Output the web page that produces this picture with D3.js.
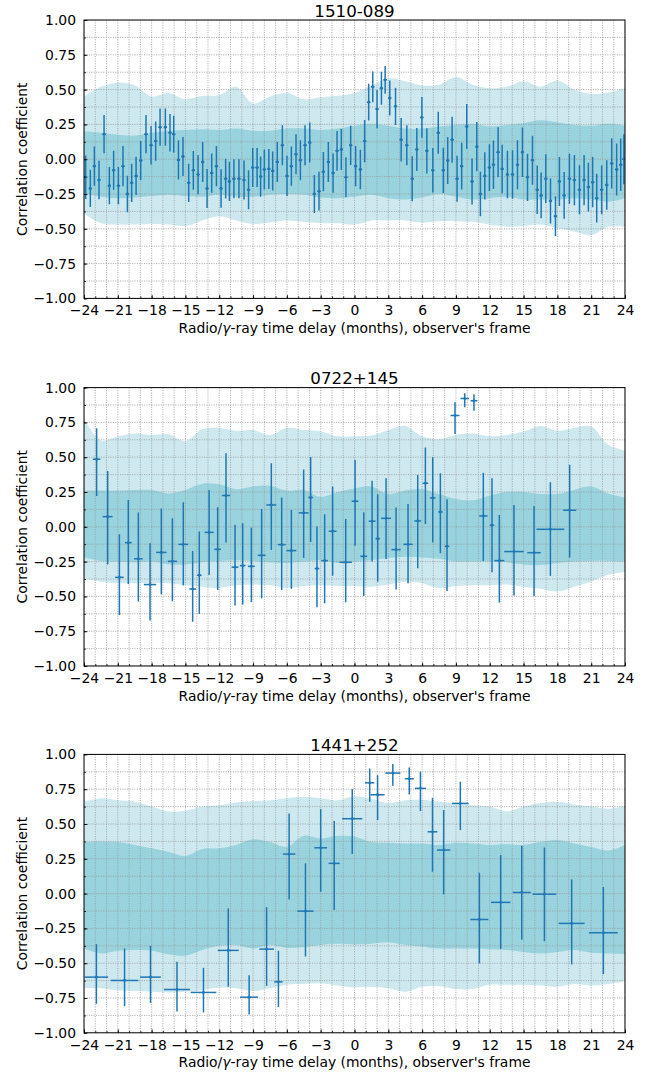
<!DOCTYPE html>
<html>
<head>
<meta charset="utf-8">
<script src="https://cdn.jsdelivr.net/npm/d3@7"></script>
<style>
  html, body { margin: 0; padding: 0; background: #fff; }
  svg { display: block; font-family: "DejaVu Sans", sans-serif; }
</style>
</head>
<body>
<svg id="chart" width="656" height="1075"></svg>
<script>
// ---- Sources (one panel each) ----
const sources = ["1510-089", "0722+145", "1441+252"];

// ---- Axis ticks ----
const xTicks = [-24, -21, -18, -15, -12, -9, -6, -3, 0, 3, 6, 9, 12, 15, 18, 21, 24];
const yTicks = [-1, -0.75, -0.5, -0.25, 0, 0.25, 0.5, 0.75, 1];

// ---- 1510-089: DCF points (lag in months, coefficient, 1-sigma error) ----
const lag1510 = [-23.85,-23.44,-23.08,-22.67,-22.22,-21.75,-21.37,-20.95,-20.54,-20.15,-19.77,-19.38,-18.97,-18.5,-18.05,-17.64,-17.25,-16.78,-16.37,-16.04,-15.62,-15.22,-14.71,-14.3,-13.88,-13.47,-13.08,-12.67,-12.25,-11.84,-11.43,-11.1,-10.7,-10.25,-9.8,-9.4,-9.03,-8.64,
  -8.33,-8.0,-7.6,-7.26,-6.85,-6.4,-5.99,-5.6,-5.19,-4.8,-4.39,-3.97,-3.56,-3.15,-2.76,-2.32,-1.9,-1.55,-1.17,-0.76,-0.34,0.1,0.52,0.9,1.26,1.62,2.0,2.39,2.72,3.13,3.64,4.14,4.64,5.12,5.53,5.98,6.42,6.95,7.43,
  7.88,8.27,8.66,9.1,9.51,9.96,10.43,10.85,11.17,11.56,11.97,12.33,12.74,13.1,13.57,14.02,14.46,14.9,15.35,15.79,16.21,16.56,16.97,17.39,17.83,18.18,18.6,19.07,19.51,19.96,20.37,20.75,21.13,21.49,21.93,22.38,22.82,23.26,23.62,23.9];
const corr1510 = [-0.13,-0.21,-0.05,-0.15,0.18,-0.19,-0.08,-0.19,-0.05,-0.25,-0.17,-0.12,-0.01,0.18,0.10,0.13,0.23,0.23,0.19,0.18,-0.005,0.02,-0.17,-0.08,-0.11,-0.02,-0.21,-0.10,-0.05,-0.21,-0.14,-0.16,-0.14,-0.14,-0.15,-0.22,-0.06,-0.06,
  -0.125,-0.074,-0.07,-0.084,-0.02,0.10,-0.12,-0.05,0.035,-0.007,0.10,0.12,-0.25,-0.23,-0.09,-0.02,-0.10,0.06,0.07,-0.13,0.10,-0.05,-0.074,0.13,0.41,0.52,0.36,0.51,0.57,0.44,0.38,0.14,0.10,-0.14,0.07,0.30,0.06,-0.08,0.19,
  -0.08,-0.01,0.14,-0.14,-0.05,0.235,-0.16,0.09,-0.25,-0.12,-0.06,-0.04,0.05,-0.07,-0.11,-0.11,-0.04,0.05,-0.13,-0.007,-0.22,-0.26,-0.14,-0.30,-0.41,-0.16,-0.26,-0.14,-0.15,-0.22,-0.15,-0.20,-0.165,-0.28,-0.22,-0.185,-0.03,-0.074,-0.04,0.0];
const err1510 = [0.156,0.134,0.141,0.138,0.137,0.134,0.14,0.134,0.144,0.132,0.138,0.137,0.14,0.138,0.138,0.141,0.134,0.134,0.134,0.132,0.141,0.14,0.138,0.139,0.141,0.144,0.14,0.141,0.144,0.138,0.143,0.141,0.14,0.14,0.14,0.14,0.14,0.14,
  0.144,0.144,0.144,0.14,0.144,0.143,0.144,0.141,0.144,0.144,0.144,0.144,0.136,0.139,0.141,0.144,0.141,0.143,0.147,0.144,0.141,0.144,0.141,0.152,0.132,0.11,0.137,0.118,0.10,0.126,0.134,0.156,0.143,0.162,0.155,0.146,0.162,0.16,0.15,
  0.162,0.169,0.165,0.165,0.168,0.162,0.165,0.177,0.16,0.17,0.168,0.174,0.18,0.174,0.171,0.174,0.176,0.177,0.17,0.176,0.174,0.164,0.175,0.162,0.144,0.176,0.168,0.18,0.18,0.176,0.18,0.175,0.18,0.175,0.175,0.178,0.18,0.186,0.188,0.18];
const lagErr1510 = 0.15;

// ---- 0722+145 ----
const lag0722 = [-22.88,-21.9,-20.86,-20.07,-19.18,-18.14,-17.14,-16.16,-15.19,-14.36,-13.77,-12.9,-12.14,-11.4,-10.6,-9.92,-9.15,-8.24,-7.38,-6.46,-5.6,-4.51,-3.89,-3.33,-2.65,-1.94,-0.78,0.05,0.82,1.56,2.06,2.8,3.69,4.75,5.61,6.29,6.94,7.62,8.21,8.92,9.78,10.6,11.43,12.2,12.85,14.15,15.93,17.38,19.09];
const corr0722 = [0.485,0.073,-0.363,-0.114,-0.23,-0.415,-0.184,-0.248,-0.126,-0.447,-0.348,-0.04,-0.162,0.224,-0.29,-0.279,-0.284,-0.205,0.157,-0.128,-0.171,0.10,0.21,-0.30,-0.243,-0.032,-0.255,0.183,-0.212,0.04,-0.085,0.061,-0.164,-0.126,0.042,0.313,0.207,0.107,-0.14,0.799,0.921,0.906,0.078,0.011,-0.243,-0.178,-0.186,-0.018,0.119];
const errHi0722 = [0.223,0.328,0.309,0.307,0.333,0.297,0.316,0.309,0.302,0.273,0.314,0.304,0.302,0.304,0.304,0.304,0.278,0.333,0.299,0.338,0.292,0.311,0.292,0.302,0.333,0.321,0.311,0.297,0.316,0.290,0.319,0.287,0.302,0.290,0.331,0.256,0.292,0.278,0.338,0.096,0.038,0.046,0.311,0.338,0.328,0.335,0.335,0.338,0.326];
const errLo0722 = [0.263,0.343,0.271,0.297,0.307,0.259,0.302,0.287,0.295,0.235,0.278,0.307,0.292,0.336,0.275,0.280,0.257,0.309,0.323,0.326,0.275,0.323,0.319,0.278,0.307,0.319,0.287,0.319,0.285,0.290,0.309,0.292,0.287,0.280,0.340,0.293,0.319,0.297,0.321,0.132,0.062,0.072,0.323,0.338,0.302,0.316,0.311,0.335,0.340];
const lagErr0722 = [0.33,0.44,0.38,0.3,0.38,0.55,0.46,0.41,0.44,0.3,0.2,0.4,0.3,0.37,0.3,0.25,0.3,0.35,0.44,0.35,0.44,0.44,0.2,0.2,0.3,0.35,0.55,0.3,0.3,0.3,0.2,0.44,0.41,0.41,0.3,0.25,0.25,0.2,0.2,0.4,0.38,0.3,0.37,0.2,0.44,0.87,0.6,1.23,0.58];

// ---- 1441+252 ----
const lag1441 = [-22.9,-20.4,-18.1,-15.75,-13.4,-11.2,-9.35,-7.8,-6.75,-5.8,-4.35,-3.0,-1.8,-0.2,1.35,2.05,3.4,4.86,5.85,6.92,7.91,9.39,11.08,12.97,14.84,16.85,19.27,22.08];
const corr1441 = [-0.60,-0.624,-0.60,-0.689,-0.71,-0.408,-0.744,-0.399,-0.634,0.284,-0.126,0.329,0.217,0.538,0.796,0.71,0.866,0.825,0.756,0.444,0.313,0.648,-0.186,-0.063,0.008,-0.004,-0.214,-0.281];
const errHi1441 = [0.237,0.230,0.225,0.199,0.177,0.302,0.158,0.302,0.223,0.292,0.343,0.278,0.304,0.213,0.103,0.141,0.065,0.081,0.120,0.244,0.287,0.156,0.335,0.340,0.335,0.335,0.316,0.328];
const errLo1441 = [0.192,0.184,0.185,0.158,0.144,0.261,0.124,0.264,0.180,0.326,0.326,0.316,0.335,0.254,0.137,0.182,0.091,0.113,0.163,0.287,0.319,0.192,0.316,0.333,0.340,0.338,0.295,0.297];
const lagErr1441 = [1.04,1.23,0.92,1.15,1.14,0.93,0.8,0.65,0.37,0.55,0.72,0.56,0.49,0.9,0.41,0.62,0.67,0.4,0.5,0.43,0.59,0.74,0.8,0.86,0.8,1.05,1.15,1.27];

// ---- Significance bands (sampled every 1.5 months) ----
const bandLags = [-24,-22.5,-21,-19.5,-18,-16.5,-15,-13.5,-12,-10.5,-9,-7.5,-6,-4.5,-3,-1.5,0,1.5,3,4.5,6,7.5,9,10.5,12,13.5,15,16.5,18,19.5,21,22.5,24];

const outerHi1510 = [0.45,0.52,0.55,0.53,0.45,0.475,0.43,0.455,0.46,0.52,0.40,0.45,0.475,0.43,0.445,0.455,0.475,0.53,0.58,0.56,0.53,0.535,0.59,0.535,0.51,0.52,0.56,0.52,0.565,0.50,0.47,0.48,0.51];
const innerHi1510 = [0.20,0.19,0.175,0.17,0.19,0.205,0.21,0.215,0.21,0.22,0.205,0.205,0.22,0.22,0.21,0.22,0.24,0.255,0.24,0.22,0.22,0.235,0.245,0.255,0.235,0.245,0.26,0.28,0.265,0.245,0.24,0.255,0.24];
const innerLo1510 = [-0.245,-0.27,-0.28,-0.275,-0.265,-0.255,-0.265,-0.27,-0.255,-0.27,-0.27,-0.255,-0.25,-0.255,-0.275,-0.28,-0.27,-0.255,-0.28,-0.29,-0.275,-0.25,-0.27,-0.29,-0.28,-0.27,-0.29,-0.29,-0.29,-0.28,-0.29,-0.305,-0.28];
const outerLo1510 = [-0.39,-0.46,-0.47,-0.47,-0.465,-0.47,-0.48,-0.44,-0.41,-0.44,-0.465,-0.455,-0.44,-0.45,-0.46,-0.46,-0.47,-0.44,-0.44,-0.44,-0.455,-0.445,-0.445,-0.45,-0.47,-0.485,-0.48,-0.47,-0.495,-0.52,-0.545,-0.485,-0.485];

const outerHi0722 = [0.78,0.62,0.65,0.67,0.66,0.665,0.615,0.70,0.71,0.69,0.695,0.66,0.71,0.695,0.685,0.65,0.65,0.655,0.695,0.725,0.65,0.63,0.66,0.67,0.65,0.66,0.685,0.725,0.69,0.71,0.72,0.59,0.55];
const innerHi0722 = [0.26,0.26,0.26,0.265,0.265,0.24,0.265,0.31,0.305,0.27,0.29,0.295,0.26,0.265,0.215,0.25,0.275,0.29,0.235,0.26,0.27,0.235,0.20,0.19,0.225,0.25,0.25,0.235,0.235,0.265,0.29,0.24,0.21];
const innerLo0722 = [-0.22,-0.245,-0.25,-0.255,-0.25,-0.27,-0.27,-0.255,-0.245,-0.24,-0.245,-0.255,-0.26,-0.25,-0.24,-0.26,-0.25,-0.24,-0.225,-0.215,-0.22,-0.23,-0.25,-0.25,-0.25,-0.255,-0.27,-0.275,-0.26,-0.25,-0.245,-0.245,-0.25];
const outerLo0722 = [-0.37,-0.395,-0.405,-0.405,-0.405,-0.405,-0.42,-0.43,-0.44,-0.42,-0.415,-0.42,-0.44,-0.425,-0.42,-0.425,-0.425,-0.43,-0.415,-0.395,-0.405,-0.44,-0.425,-0.42,-0.42,-0.415,-0.43,-0.445,-0.465,-0.43,-0.395,-0.345,-0.325];

const outerHi1441 = [0.66,0.685,0.67,0.66,0.625,0.59,0.595,0.625,0.635,0.655,0.665,0.67,0.685,0.695,0.685,0.67,0.70,0.68,0.65,0.67,0.675,0.66,0.65,0.635,0.625,0.59,0.625,0.65,0.66,0.64,0.625,0.61,0.63];
const innerHi1441 = [0.37,0.375,0.37,0.35,0.325,0.30,0.27,0.32,0.325,0.35,0.39,0.37,0.335,0.415,0.395,0.415,0.41,0.37,0.365,0.36,0.36,0.35,0.365,0.36,0.35,0.355,0.35,0.37,0.385,0.36,0.335,0.31,0.35];
const innerLo1441 = [-0.395,-0.43,-0.41,-0.405,-0.41,-0.435,-0.445,-0.405,-0.375,-0.37,-0.395,-0.37,-0.39,-0.385,-0.37,-0.36,-0.365,-0.36,-0.35,-0.37,-0.38,-0.395,-0.395,-0.395,-0.40,-0.405,-0.42,-0.43,-0.42,-0.405,-0.425,-0.43,-0.435];
const outerLo1441 = [-0.68,-0.68,-0.695,-0.70,-0.705,-0.71,-0.705,-0.695,-0.675,-0.68,-0.70,-0.68,-0.655,-0.65,-0.645,-0.66,-0.675,-0.67,-0.68,-0.705,-0.67,-0.665,-0.685,-0.685,-0.655,-0.655,-0.655,-0.66,-0.67,-0.65,-0.66,-0.65,-0.63];

// ---- Assemble panels ----
const panels = [
  { title: sources[0], lag: lag1510, r: corr1510, eHi: err1510, eLo: err1510, xe: lag1510.map(() => lagErr1510),
    outerHi: outerHi1510, innerHi: innerHi1510, innerLo: innerLo1510, outerLo: outerLo1510 },
  { title: sources[1], lag: lag0722, r: corr0722, eHi: errHi0722, eLo: errLo0722, xe: lagErr0722,
    outerHi: outerHi0722, innerHi: innerHi0722, innerLo: innerLo0722, outerLo: outerLo0722 },
  { title: sources[2], lag: lag1441, r: corr1441, eHi: errHi1441, eLo: errLo1441, xe: lagErr1441,
    outerHi: outerHi1441, innerHi: innerHi1441, innerLo: innerLo1441, outerLo: outerLo1441 }
];

// ---- Layout ----
const plotLeft = 84, plotRight = 625, plotH = 278.4;
const panelTops = [20, 387.6, 754.4];
const BLUE = "#1f77b4";
const tickFont = 13.9, titleFont = 16.7;

const svg = d3.select("#chart");
const x = d3.scaleLinear().domain([-24, 24]).range([plotLeft, plotRight]);
const xMinor = d3.range(-24, 25, 1);
const yMinor = d3.range(-8, 9).map(k => k / 8);
const fmtY = d3.format(".2f");
const fmtX = d3.format("d");

panels.forEach((p, i) => {
  const top = panelTops[i];
  const bottom = top + plotH;
  const y = d3.scaleLinear().domain([-1, 1]).range([bottom, top]);
  const g = svg.append("g");

  const clipId = "clip" + i;
  svg.append("clipPath").attr("id", clipId)
    .append("rect").attr("x", plotLeft).attr("y", top)
    .attr("width", plotRight - plotLeft).attr("height", plotH);

  const plot = g.append("g").attr("clip-path", `url(#${clipId})`);

  // significance bands
  const band = (loArr, hiArr) => d3.area()
    .x((d, j) => x(bandLags[j]))
    .y0((d, j) => y(loArr[j]))
    .y1((d, j) => y(hiArr[j]))
    .curve(d3.curveCatmullRom)(bandLags);

  plot.append("path").attr("d", band(p.outerLo, p.outerHi)).attr("fill", "#cde9ef");
  plot.append("path").attr("d", band(p.innerLo, p.innerHi)).attr("fill", "#98d3de");

  // dotted grid
  const grid = plot.append("g").attr("stroke", "#999").attr("stroke-width", 0.8)
    .attr("stroke-dasharray", "1.1,1.3").attr("fill", "none");
  grid.selectAll(".gx").data(xMinor).join("line")
    .attr("x1", d => x(d)).attr("x2", d => x(d)).attr("y1", top).attr("y2", bottom);
  grid.selectAll(".gy").data(yMinor).join("line")
    .attr("y1", d => y(d)).attr("y2", d => y(d)).attr("x1", plotLeft).attr("x2", plotRight);

  // error bars
  const pts = p.lag.map((l, j) => ({ l, r: p.r[j], hi: p.eHi[j], lo: p.eLo[j], xe: p.xe[j] }));
  const eb = plot.append("g").attr("stroke", BLUE).attr("stroke-width", 1.5);
  eb.selectAll(".v").data(pts).join("line")
    .attr("x1", d => x(d.l)).attr("x2", d => x(d.l))
    .attr("y1", d => y(d.r - d.lo)).attr("y2", d => y(d.r + d.hi));
  eb.selectAll(".h").data(pts).join("line")
    .attr("x1", d => x(d.l - d.xe)).attr("x2", d => x(d.l + d.xe))
    .attr("y1", d => y(d.r)).attr("y2", d => y(d.r));
  plot.append("g").selectAll("circle").data(pts).join("circle")
    .attr("cx", d => x(d.l)).attr("cy", d => y(d.r)).attr("r", 1.4).attr("fill", BLUE);

  // axes: minor ticks then major ticks, pointing inward
  const xAxisMinor = d3.axisBottom(x).tickValues(xMinor).tickSize(-2).tickFormat("");
  const yAxisMinor = d3.axisLeft(y).tickValues(yMinor).tickSize(-2).tickFormat("");
  const xAxis = d3.axisBottom(x).tickValues(xTicks).tickSize(-3.5).tickPadding(7).tickFormat(fmtX);
  const yAxis = d3.axisLeft(y).tickValues(yTicks).tickSize(-3.5).tickPadding(8).tickFormat(fmtY);

  const styleAxis = sel => {
    sel.select(".domain").remove();
    sel.selectAll("line").attr("stroke", "#000").attr("stroke-width", 0.8);
    sel.selectAll("text").attr("fill", "#000").attr("font-size", tickFont)
      .attr("font-family", "DejaVu Sans, sans-serif");
  };
  g.append("g").attr("transform", `translate(0,${bottom})`).call(xAxisMinor).call(styleAxis);
  g.append("g").attr("transform", `translate(${plotLeft},0)`).call(yAxisMinor).call(styleAxis);
  g.append("g").attr("transform", `translate(0,${bottom})`).call(xAxis).call(styleAxis);
  g.append("g").attr("transform", `translate(${plotLeft},0)`).call(yAxis).call(styleAxis);

  // frame
  g.append("rect").attr("x", plotLeft).attr("y", top)
    .attr("width", plotRight - plotLeft).attr("height", plotH)
    .attr("fill", "none").attr("stroke", "#000").attr("stroke-width", 1);

  // title
  g.append("text").attr("x", (plotLeft + plotRight) / 2).attr("y", top - 3.2)
    .attr("text-anchor", "middle").attr("font-size", titleFont).attr("fill", "#000")
    .text(p.title);

  // x label
  const xl = g.append("text").attr("x", (plotLeft + plotRight) / 2).attr("y", bottom + 34.5)
    .attr("text-anchor", "middle").attr("font-size", tickFont).attr("fill", "#000");
  xl.append("tspan").text("Radio/");
  xl.append("tspan").attr("font-style", "italic").text("γ");
  xl.append("tspan").text("-ray time delay (months), observer's frame");

  // y label
  g.append("text")
    .attr("transform", `translate(27,${(top + bottom) / 2}) rotate(-90)`)
    .attr("text-anchor", "middle").attr("font-size", tickFont).attr("fill", "#000")
    .text("Correlation coefficient");
});
</script>
</body>
</html>
